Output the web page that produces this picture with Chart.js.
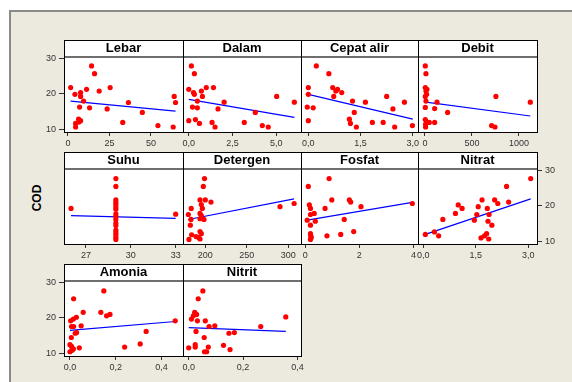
<!DOCTYPE html>
<html>
<head>
<meta charset="utf-8">
<script src="https://cdn.jsdelivr.net/npm/chart.js@4"></script>
<style>
  body { margin: 0; width: 572px; height: 382px; overflow: hidden; position: relative; background: #fff; }
  #frame { position: absolute; left: 9px; top: 10px; right: 0; bottom: 0; background: #ECE9DF;
    border-top: 2px solid #8a8a8a; border-left: 2px solid #8a8a8a; }
  canvas { position: absolute; }
  #cod { position: absolute; left: 12px; top: 191px; width: 50px; text-align: center;
    font: bold 12px 'Liberation Sans', Arial, sans-serif; color: #000; transform: rotate(-90deg); }
</style>
</head>
<body>
<div id="frame"></div>
<div id="cod">COD</div>
<script>
// shared y axis
const yTicks = [10, 20, 30]
const yTickLabels = ['10', '20', '30']

const lebarX = [1.6, 4.2, 7.6, 7.6, 11.2, 14.2, 16, 18.8, 25.4, 9.4, 7, 13, 23.6, 36.4, 44.8, 6.4, 7.6, 6.6, 4.6, 4.6, 33, 54.2, 63.4, 64, 64.8]
const lebarY = [21.7, 19.8, 20.3, 19.2, 21.2, 27.8, 25.6, 20.7, 21.7, 17.9, 16.2, 16.0, 15.7, 17.5, 14.7, 12.8, 12.4, 12.0, 11.6, 10.6, 11.9, 11.0, 10.6, 19.2, 17.5]
const lebarFitX = [1.6, 64.8]
const lebarFitY = [17.9, 15.1]
const lebarTicks = [0, 25, 50]
const lebarTickLabels = ['0', '25', '50']

const dalamX = [0.15, 0.32, 0, 0.27, 0.32, 0.72, 0.78, 1.0, 1.41, 0.49, 2.02, 0.21, 0.49, 1.67, 3.8, 0.38, 0, 0.61, 1.33, 1.5, 3.17, 4.2, 4.54, 5.02, 6.03]
const dalamY = [27.8, 25.6, 21.2, 20.3, 19.8, 20.7, 19.2, 21.7, 21.7, 17.9, 17.6, 16.2, 16.0, 15.7, 14.7, 12.7, 12.4, 11.6, 11.9, 10.6, 11.9, 11.0, 10.6, 19.2, 17.6]
const dalamFitX = [0, 6.03]
const dalamFitY = [18.4, 13.3]
const dalamTicks = [0, 2.5, 5]
const dalamTickLabels = ['0,0', '2,5', '5,0']

const cepatX = [0.23, 0.59, 0, 0.70, 0.84, 0.79, 0.96, 0, 0.73, 1.27, 1.64, 2.25, 2.76, -0.03, 0.14, 2.43, 1.32, 0, 1.18, 1.21, 1.84, 2.15, 1.38, 2.48, 2.99]
const cepatY = [27.8, 25.6, 21.7, 21.7, 21.2, 20.7, 20.3, 19.8, 19.2, 17.9, 17.6, 19.2, 17.6, 16.2, 16.0, 15.7, 14.7, 12.4, 12.8, 11.6, 11.9, 11.9, 10.6, 10.6, 11.0]
const cepatFitX = [0, 3.0]
const cepatFitY = [19.8, 12.8]
const cepatTicks = [0, 1.5, 3]
const cepatTickLabels = ['0,0', '1,5', '3,0']

const debitX = [3.5, 10.6, 3.5, 21, 10.6, 17.7, 3.5, 10.6, 128, 3.5, 103, 241, 3.5, 21, 46, 103, 7, 7, 755, 709, 745, 1121]
const debitY = [27.8, 25.6, 21.7, 21.2, 20.7, 19.8, 19.2, 17.9, 17.6, 16.1, 15.8, 14.7, 12.7, 12.0, 11.9, 11.9, 11.4, 10.6, 19.2, 11.0, 10.6, 17.6]
const debitFitX = [10, 1121]
const debitFitY = [17.6, 13.7]
const debitTicks = [0, 500, 1000]
const debitTickLabels = ['0', '500', '1000']

const suhuX = [26.0, 33, 29, 29, 29, 29, 29, 29, 29, 29, 29, 29, 29, 29, 29, 29, 29, 29, 29]
const suhuY = [19.2, 17.6, 27.6, 25.4, 21.6, 20.9, 20.3, 19.6, 19.0, 17.7, 17.0, 16.1, 15.1, 14.4, 13.1, 12.4, 11.8, 11.1, 10.5]
const suhuFitX = [26.0, 33]
const suhuFitY = [17.2, 16.4]
const suhuTicks = [27, 30, 33]
const suhuTickLabels = ['27', '30', '33']

const detergenX = [199, 197.6, 193.6, 200, 206.8, 195.2, 196.4, 183, 179.5, 193.6, 195.2, 182.7, 193.6, 198.4, 181.9, 193.6, 195.2, 183.5, 188.8, 192, 180.3, 193.6, 290, 307]
const detergenY = [27.6, 25.4, 21.6, 21.6, 21.0, 20.3, 19.2, 19.2, 17.5, 17.8, 17.2, 16.1, 16.3, 16.1, 14.5, 12.7, 12.1, 11.8, 11.3, 11.0, 10.5, 10.6, 19.7, 20.6]
const detergenFitX = [179.5, 307]
const detergenFitY = [16.1, 21.9]
const detergenTicks = [200, 250, 300]
const detergenTickLabels = ['200', '250', '300']

const fosfatX = [0.11, 0.88, 0.15, 0.19, 0.98, 1.63, 1.68, 2.06, 0.73, 0.19, 0.33, 0.07, 0.37, 1.44, 0.19, 1.79, 0.19, 0.2, 0.8, 1.31, 0.22, 0.19, 3.96]
const fosfatY = [25.4, 27.6, 20.2, 19.2, 21.6, 21.6, 21.0, 19.7, 19.2, 17.5, 17.8, 15.9, 15.6, 16.1, 14.5, 12.7, 12.1, 11.5, 11.5, 11.9, 11.0, 10.5, 20.6]
const fosfatFitX = [0.07, 3.96]
const fosfatFitY = [15.9, 20.9]
const fosfatTicks = [0, 2, 4]
const fosfatTickLabels = ['0', '2', '4']

const nitratX = [0.06, 0.32, 0.44, 0.56, 0.92, 1.0, 1.11, 1.46, 1.53, 1.57, 1.68, 1.65, 1.75, 1.81, 1.83, 1.85, 1.88, 1.87, 1.96, 2.04, 2.13, 2.38, 2.44, 3.07]
const nitratY = [11.9, 12.6, 11.5, 16.1, 17.8, 20.2, 19.2, 15.9, 17.5, 19.7, 21.6, 10.9, 11.5, 12.1, 19.2, 15.6, 17.5, 10.6, 14.5, 21.6, 20.6, 25.4, 21.0, 27.6]
const nitratFitX = [0.06, 3.07]
const nitratFitY = [11.9, 21.9]
const nitratTicks = [0, 1.5, 3]
const nitratTickLabels = ['0,0', '1,5', '3,0']

const amoniaX = [0.016, 0.148, 0.003, 0.015, 0.028, 0.058, 0.135, 0.16, 0.175, 0.049, 0.007, 0.016, 0.023, 0.029, 0.006, 0.333, 0, 0.007, 0.015, 0.041, 0.239, 0.307, 0, 0.009, 0.46]
const amoniaY = [25.3, 27.5, 19.1, 19.6, 20.1, 21.5, 21.5, 20.5, 20.9, 17.7, 17.5, 17.5, 15.6, 15.8, 14.4, 16.1, 12.4, 11.9, 11.2, 11.5, 11.7, 12.6, 10.4, 10.8, 19.1]
const amoniaFitX = [0, 0.46]
const amoniaFitY = [16.4, 18.9]
const amoniaTicks = [0, 0.2, 0.4]
const amoniaTickLabels = ['0,0', '0,2', '0,4']

const nitritX = [0.052, 0.035, 0.022, 0.029, 0.01, 0.017, 0.032, 0.061, 0.096, 0.075, 0.265, 0.357, 0.027, 0.057, 0.148, 0.168, 0, 0.024, 0.024, 0.072, 0.128, 0.152, 0.058, 0.066]
const nitritY = [27.5, 25.3, 21.5, 20.9, 19.6, 20.5, 19.1, 19.1, 17.7, 17.5, 17.5, 20.2, 16.1, 14.4, 15.6, 15.8, 11.5, 12.4, 11.7, 11.7, 12.2, 11.0, 10.4, 10.4]
const nitritFitX = [0, 0.357]
const nitritFitY = [17.2, 16.1]
const nitritTicks = [0, 0.2, 0.4]
const nitritTickLabels = ['0,0', '0,2', '0,4']

// layout of the matrix
const COLS = [64, 183, 301, 418, 537]
const ROWS = [40, 152, 264]
const HEAD = 17, PLOT = 75, AXIS = 22, SIDE = 40
const Y_MIN = 9.2, Y_MAX = 30.3
const FONT = "'Liberation Sans', Arial, sans-serif"

const panels = [
  { title: 'Lebar', x: lebarX, y: lebarY, fitX: lebarFitX, fitY: lebarFitY, ticks: lebarTicks, labels: lebarTickLabels, min: -2.4, max: 69.3, col: 0, row: 0, ySide: 'left' },
  { title: 'Dalam', x: dalamX, y: dalamY, fitX: dalamFitX, fitY: dalamFitY, ticks: dalamTicks, labels: dalamTickLabels, min: -0.33, max: 6.41, col: 1, row: 0 },
  { title: 'Cepat alir', x: cepatX, y: cepatY, fitX: cepatFitX, fitY: cepatFitY, ticks: cepatTicks, labels: cepatTickLabels, min: -0.21, max: 3.15, col: 2, row: 0 },
  { title: 'Debit', x: debitX, y: debitY, fitX: debitFitX, fitY: debitFitY, ticks: debitTicks, labels: debitTickLabels, min: -74, max: 1192, col: 3, row: 0 },
  { title: 'Suhu', x: suhuX, y: suhuY, fitX: suhuFitX, fitY: suhuFitY, ticks: suhuTicks, labels: suhuTickLabels, min: 25.53, max: 33.49, col: 0, row: 1 },
  { title: 'Detergen', x: detergenX, y: detergenY, fitX: detergenFitX, fitY: detergenFitY, ticks: detergenTicks, labels: detergenTickLabels, min: 173.1, max: 315.3, col: 1, row: 1 },
  { title: 'Fosfat', x: fosfatX, y: fosfatY, fitX: fosfatFitX, fitY: fosfatFitY, ticks: fosfatTicks, labels: fosfatTickLabels, min: -0.16, max: 4.17, col: 2, row: 1 },
  { title: 'Nitrat', x: nitratX, y: nitratY, fitX: nitratFitX, fitY: nitratFitY, ticks: nitratTicks, labels: nitratTickLabels, min: -0.15, max: 3.25, col: 3, row: 1, ySide: 'right' },
  { title: 'Amonia', x: amoniaX, y: amoniaY, fitX: amoniaFitX, fitY: amoniaFitY, ticks: amoniaTicks, labels: amoniaTickLabels, min: -0.026, max: 0.494, col: 0, row: 2, ySide: 'left' },
  { title: 'Nitrit', x: nitritX, y: nitritY, fitX: nitritFitX, fitY: nitritFitY, ticks: nitritTicks, labels: nitritTickLabels, min: -0.021, max: 0.413, col: 1, row: 2 },
]

// white panel, black frame and the grey line under the header
const panelBox = {
  id: 'panelBox',
  beforeDraw(chart) {
    const { ctx, chartArea: a } = chart
    ctx.save()
    ctx.fillStyle = '#fff'
    ctx.fillRect(a.left, a.top - HEAD, a.right - a.left, a.bottom - a.top + HEAD)
    ctx.restore()
  },
  afterDraw(chart) {
    const { ctx, chartArea: a } = chart
    ctx.save()
    ctx.strokeStyle = '#6f6f6f'
    ctx.lineWidth = 2
    ctx.beginPath()
    ctx.moveTo(a.left, a.top)
    ctx.lineTo(a.right, a.top)
    ctx.stroke()
    ctx.strokeStyle = '#000'
    ctx.lineWidth = 1
    ctx.strokeRect(a.left + 0.5, a.top - HEAD + 0.5, a.right - a.left, a.bottom - a.top + HEAD)
    ctx.restore()
  }
}

function makePanel(p) {
  const w = COLS[p.col + 1] - COLS[p.col]
  const canvas = document.createElement('canvas')
  canvas.width = w + 2 * SIDE
  canvas.height = HEAD + PLOT + AXIS
  canvas.style.left = (COLS[p.col] - SIDE) + 'px'
  canvas.style.top = ROWS[p.row] + 'px'
  document.body.appendChild(canvas)

  const tickFont = { family: FONT, size: 9 }
  new Chart(canvas, {
    type: 'scatter',
    data: {
      datasets: [
        {
          data: p.x.map((v, i) => ({ x: v, y: p.y[i] })),
          pointRadius: 2.6,
          pointBackgroundColor: '#ff0000',
          pointBorderWidth: 0,
        },
        {
          data: p.fitX.map((v, i) => ({ x: v, y: p.fitY[i] })),
          showLine: true,
          borderColor: '#0000ff',
          borderWidth: 1.2,
          pointRadius: 0,
        },
      ]
    },
    options: {
      responsive: false,
      animation: false,
      events: [],
      layout: {
        padding: {
          left: p.ySide === 'left' ? 0 : SIDE,
          right: p.ySide === 'right' ? 0 : SIDE,
          top: 0,
          bottom: 0,
        }
      },
      plugins: {
        legend: { display: false },
        tooltip: { enabled: false },
        title: {
          display: true,
          text: p.title,
          fullSize: false,
          color: '#000',
          font: { family: FONT, size: 13, weight: 'bold', lineHeight: '13px' },
          padding: { top: 2, bottom: 2 },
        },
      },
      scales: {
        x: {
          type: 'linear',
          min: p.min,
          max: p.max,
          afterFit: (s) => { s.height = AXIS },
          afterBuildTicks: (s) => { s.ticks = p.ticks.map(v => ({ value: v })) },
          ticks: {
            autoSkip: false,
            maxRotation: 0,
            padding: 2,
            color: '#333',
            font: tickFont,
            callback: (v, i) => p.labels[i],
          },
          grid: { display: true, drawOnChartArea: false, drawTicks: true, tickLength: 4, color: '#333' },
          border: { display: false },
        },
        y: {
          type: 'linear',
          display: !!p.ySide,
          position: p.ySide || 'left',
          min: Y_MIN,
          max: Y_MAX,
          afterFit: (s) => { if (p.ySide) s.width = SIDE },
          afterBuildTicks: (s) => { s.ticks = yTicks.map(v => ({ value: v })) },
          ticks: {
            autoSkip: false,
            padding: 3,
            color: '#333',
            font: tickFont,
            callback: (v, i) => yTickLabels[i],
          },
          grid: { display: true, drawOnChartArea: false, drawTicks: true, tickLength: 5, color: '#333' },
          border: { display: false },
        },
      }
    },
    plugins: [panelBox]
  })
}

panels.forEach(makePanel)
</script>
</body>
</html>
